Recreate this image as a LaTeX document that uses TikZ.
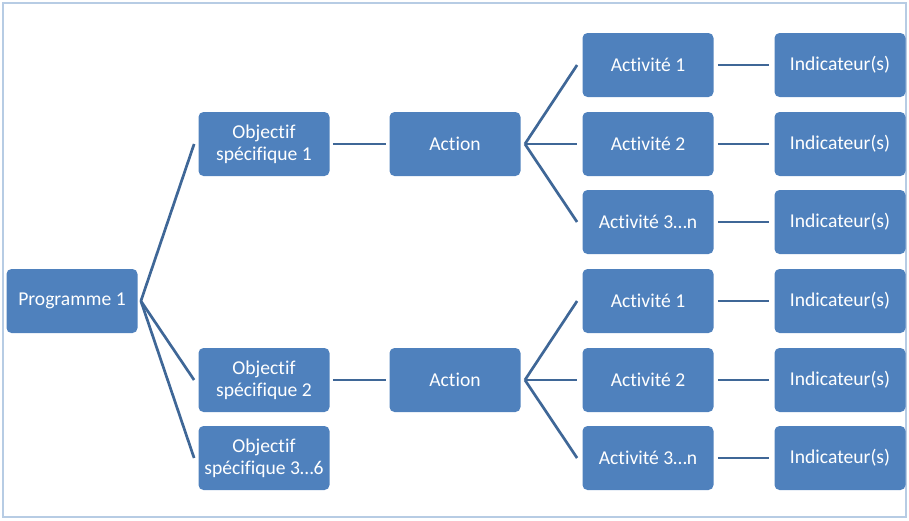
\documentclass[tikz,border=0pt]{standalone}
\usepackage{fontspec}
\setmainfont{Carlito}[Ligatures=NoCommon]
\usetikzlibrary{positioning}
\definecolor{boxblue}{HTML}{4F81BD}
\definecolor{linkblue}{HTML}{3F6797}
\definecolor{frameblue}{HTML}{B7CCE4}

\begin{document}
\begin{tikzpicture}[x=0.5pt, y=-0.5pt,
  box/.style={fill=boxblue, rounded corners=2.5pt, text=white, align=center,
    minimum width=65.5pt, minimum height=32pt, inner sep=1pt,
    font=\fontsize{9.8}{10.8}\selectfont},
  link/.style={draw=linkblue, line width=1.35pt}]
\useasboundingbox (0,0) rectangle (909,520);
\draw[frameblue, line width=1pt] (3,3) rectangle (906,517);
% programme and objectives
\node[box] (prog) at (72,301) {Programme 1};
\node[box] (obj1) at (264,144) {Objectif\\spécifique 1};
\node[box] (obj2) at (264,380) {Objectif\\spécifique 2};
\node[box] (obj3) at (264,458) {Objectif\\spécifique 3…6};
\node[box] (act1) at (455,144) {Action};
\node[box] (act2) at (455,380) {Action};
% activities and indicators
\foreach \r/\y/\t in {1/65/{Activité 1}, 2/144/{Activité 2}, 3/222/{Activité 3…n},
                      4/301/{Activité 1}, 5/380/{Activité 2}, 6/458/{Activité 3…n}}{
  \node[box] (acti\r) at (648,\y) {\t};
  \node[box] (ind\r) at (840,\y) {Indicateur(s)};
  \draw[link] ([xshift=2pt]acti\r.east) -- ([xshift=-2.5pt]ind\r.west);
}
\foreach \i in {1,2,3}{\draw[link] ([xshift=1.5pt]prog.east) -- ([xshift=-2pt]obj\i.west);}
\foreach \i in {1,2}{\draw[link] ([xshift=1.5pt]obj\i.east) -- ([xshift=-1.5pt]act\i.west);}
\foreach \i in {1,2,3}{\draw[link] ([xshift=2pt]act1.east) -- ([xshift=-2.5pt]acti\i.west);}
\foreach \i in {4,5,6}{\draw[link] ([xshift=2pt]act2.east) -- ([xshift=-2.5pt]acti\i.west);}
\end{tikzpicture}
\end{document}
